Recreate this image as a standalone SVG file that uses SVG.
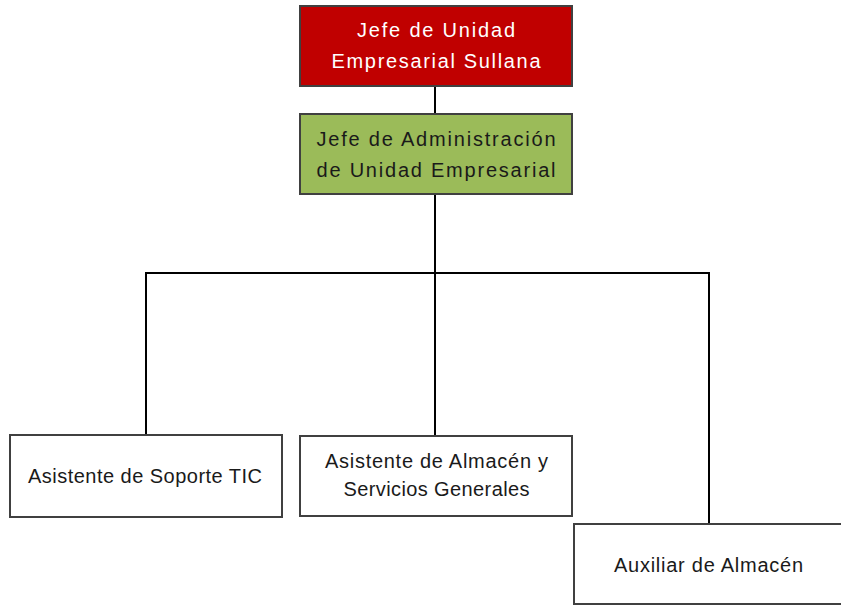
<svg xmlns="http://www.w3.org/2000/svg" width="841" height="607" viewBox="0 0 841 607">
<style>
.box{stroke:#404040;stroke-width:2}
.t{font-family:"Liberation Sans",Arial,sans-serif;font-size:20px;text-anchor:middle}
.conn{stroke:#000;stroke-width:2;fill:none}
</style>
<rect width="841" height="607" fill="#fff"/>
<g id="connectors">
<line class="conn" x1="435" y1="86" x2="435" y2="114"/>
<line class="conn" x1="435" y1="194" x2="435" y2="436"/>
<polyline class="conn" points="146,435 146,273 709,273 709,524"/>
</g>
<g id="n1">
<rect class="box" x="300" y="6" width="272" height="80" fill="#C00000"/>
<text class="t" x="436" y="37" fill="#fff" textLength="158">Jefe de Unidad</text>
<text class="t" x="436" y="68" fill="#fff" textLength="209">Empresarial Sullana</text>
</g>
<g id="n2">
<rect class="box" x="300" y="114" width="272" height="80" fill="#9BBB59"/>
<text class="t" x="436" y="146" fill="#1a1a1a" textLength="239">Jefe de Administración</text>
<text class="t" x="436" y="177" fill="#1a1a1a" textLength="239">de Unidad Empresarial</text>
</g>
<g id="n3">
<rect class="box" x="10" y="435" width="272" height="82" fill="#fff"/>
<text class="t" x="145" y="483" fill="#1a1a1a" textLength="234">Asistente de Soporte TIC</text>
</g>
<g id="n4">
<rect class="box" x="300" y="436" width="272" height="80" fill="#fff"/>
<text class="t" x="436.5" y="468" fill="#1a1a1a" textLength="223">Asistente de Almacén y</text>
<text class="t" x="436.5" y="496" fill="#1a1a1a" textLength="186">Servicios Generales</text>
</g>
<g id="n5">
<rect class="box" x="574" y="524" width="280" height="80" fill="#fff"/>
<text class="t" x="708.5" y="572" fill="#1a1a1a" textLength="189">Auxiliar de Almacén</text>
</g>
</svg>
